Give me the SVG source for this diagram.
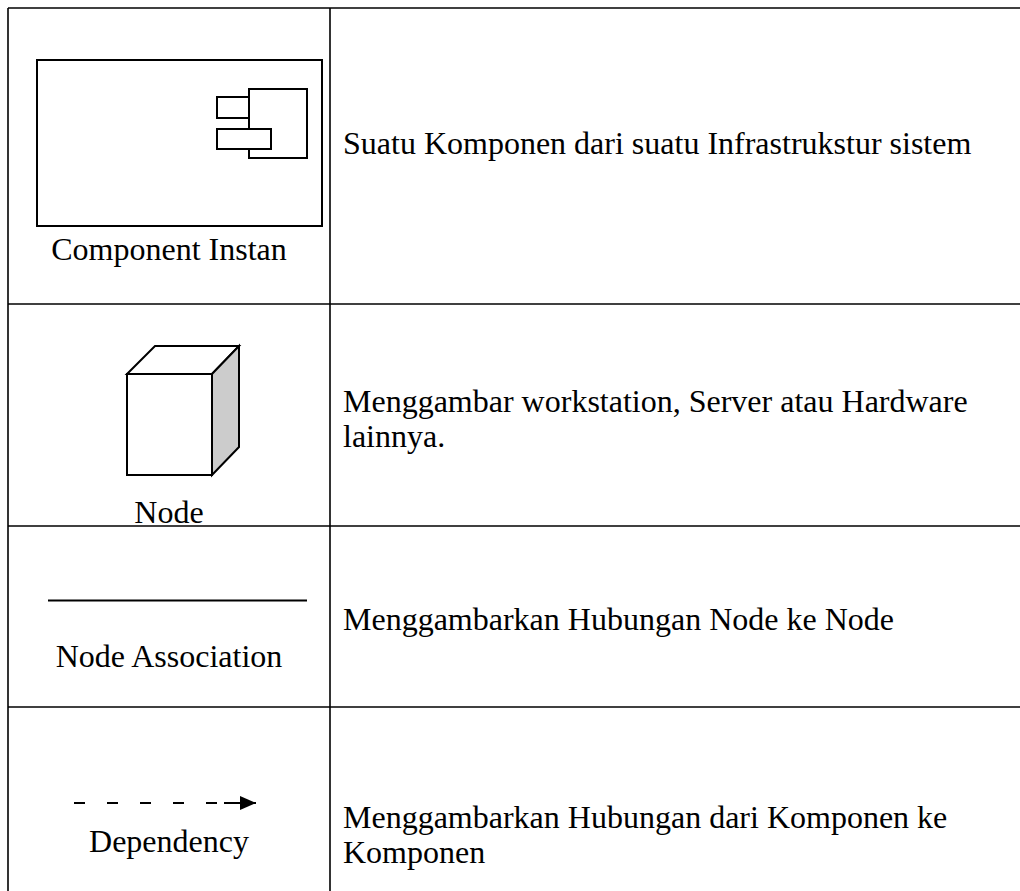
<svg xmlns="http://www.w3.org/2000/svg" width="1020" height="891" viewBox="0 0 1020 891">
<defs>
<style>
.t{font-family:"Liberation Serif","Times New Roman",serif;font-size:32px;fill:#000}
.c{text-anchor:middle}
.g{stroke:#000;stroke-width:1.6;fill:none}
.s{stroke:#000;stroke-width:2;fill:#fff}
</style>
<marker id="arr" markerWidth="16" markerHeight="14" refX="16" refY="7" orient="auto" markerUnits="userSpaceOnUse">
<path d="M0,0 L16,7 L0,14 Z" fill="#000"/>
</marker>
</defs>
<rect width="1020" height="891" fill="#fff"/>
<g id="grid" class="g">
<line x1="8" y1="8" x2="1020" y2="8"/>
<line x1="8" y1="8" x2="8" y2="891"/>
<line x1="330" y1="8" x2="330" y2="891"/>
<line x1="8" y1="304" x2="1020" y2="304"/>
<line x1="8" y1="526" x2="1020" y2="526"/>
<line x1="8" y1="707" x2="1020" y2="707"/>
</g>
<g id="component-instan">
<rect x="37" y="60" width="285" height="166" class="s"/>
<rect x="249" y="89" width="58" height="69" class="s"/>
<rect x="217" y="97" width="32" height="21" class="s"/>
<rect x="217" y="129" width="54" height="20" class="s"/>
<text x="169" y="260" class="t c">Component Instan</text>
<text x="343" y="154" class="t">Suatu Komponen dari suatu Infrastrukstur sistem</text>
</g>
<g id="node">
<path d="M127,374 L155,346 L239,346 L212,374 Z" class="s"/>
<path d="M212,374 L239,346 L239,447 L212,475 Z" stroke="#000" stroke-width="2" fill="#ccc"/>
<rect x="127" y="374" width="85" height="101" class="s"/>
<text x="169" y="523" class="t c">Node</text>
<text x="343" y="412" class="t">Menggambar workstation, Server atau Hardware</text>
<text x="343" y="447" class="t">lainnya.</text>
</g>
<g id="node-association">
<line x1="48" y1="600.5" x2="307" y2="600.5" stroke="#000" stroke-width="2"/>
<text x="169" y="667" class="t c">Node Association</text>
<text x="343" y="630" class="t">Menggambarkan Hubungan Node ke Node</text>
</g>
<g id="dependency">
<line x1="74" y1="803" x2="224" y2="803" stroke="#000" stroke-width="2" stroke-dasharray="11,22"/>
<line x1="224" y1="803" x2="256" y2="803" stroke="#000" stroke-width="2" marker-end="url(#arr)"/>
<text x="169" y="852" class="t c">Dependency</text>
<text x="343" y="828" class="t">Menggambarkan Hubungan dari Komponen ke</text>
<text x="343" y="863" class="t">Komponen</text>
</g>
</svg>
